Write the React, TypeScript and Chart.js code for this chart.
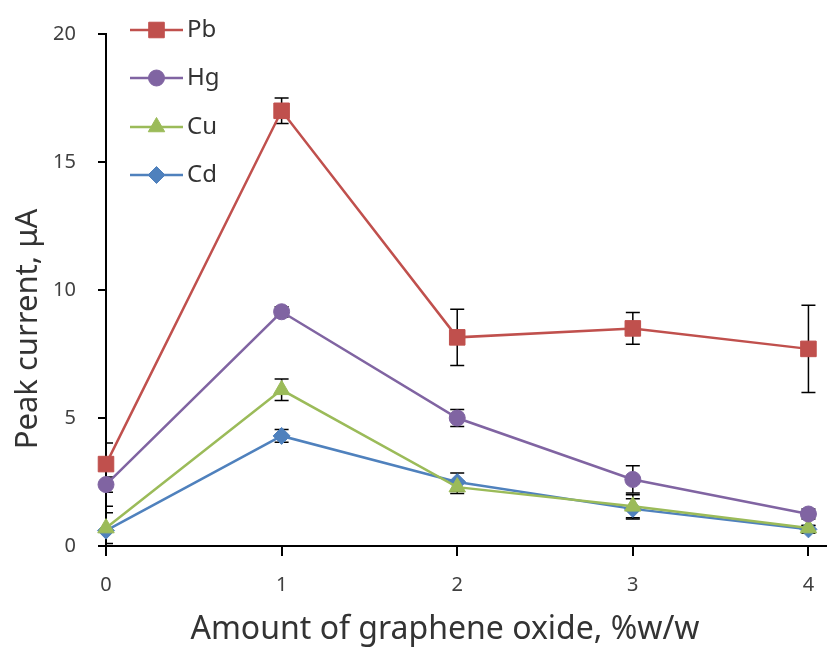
import React, { useEffect, useRef } from "react";
import { Chart, registerables } from "chart.js";
import { drawPoint } from "chart.js/helpers";

Chart.register(...registerables);

// Graphene oxide loading, %w/w
const goAmounts = [0, 1, 2, 3, 4];

// Peak currents (µA) and standard deviations for each metal
const pbCurrent = [3.2, 17.0, 8.15, 8.5, 7.7];
const pbError = [0.82, 0.5, 1.1, 0.62, 1.7];
const hgCurrent = [2.4, 9.15, 5.0, 2.6, 1.25];
const hgError = [0.3, 0.2, 0.33, 0.53, 0.2];
const cuCurrent = [0.7, 6.1, 2.3, 1.55, 0.7];
const cuError = [0.6, 0.42, 0.25, 0.45, 0.1];
const cdCurrent = [0.6, 4.3, 2.5, 1.45, 0.65];
const cdError = [0.95, 0.25, 0.35, 0.4, 0.15];

const yTicks = [0, 5, 10, 15, 20];
const xTicks = [0, 1, 2, 3, 4];

const xTitle = "Amount of graphene oxide, %w/w";
const yTitle = "Peak current, μA";

const FONT = "'Noto Sans', sans-serif";

const series = [
  { label: "Pb", values: pbCurrent, errors: pbError, color: "#C0504D", style: "rect", radius: 11 },
  { label: "Hg", values: hgCurrent, errors: hgError, color: "#8064A2", style: "circle", radius: 8 },
  { label: "Cu", values: cuCurrent, errors: cuError, color: "#9BBB59", style: "triangle", radius: 9.5 },
  { label: "Cd", values: cdCurrent, errors: cdError, color: "#4F81BD", style: "rectRot", radius: 8.5 },
];

// Vertical error bars with caps, clipped to the plot area and drawn beneath the markers
const errorBarPlugin = {
  id: "errorBars",
  beforeDatasetsDraw(chart: any) {
    const { ctx, chartArea } = chart;
    const xs = chart.scales.x;
    const ys = chart.scales.y;
    ctx.save();
    ctx.beginPath();
    ctx.rect(chartArea.left + 1, chartArea.top - 2, chartArea.right - chartArea.left, chartArea.bottom - chartArea.top + 2);
    ctx.clip();
    ctx.strokeStyle = "#000";
    ctx.lineWidth = 1.5;
    chart.data.datasets.forEach((ds: any) => {
      const errs: number[] = ds.errorValues || [];
      ds.data.forEach((pt: any, i: number) => {
        const e = errs[i];
        if (!e) return;
        const px = xs.getPixelForValue(pt.x);
        const top = ys.getPixelForValue(pt.y + e);
        const bot = ys.getPixelForValue(pt.y - e);
        const cap = 7;
        ctx.beginPath();
        ctx.moveTo(px, top);
        ctx.lineTo(px, bot);
        ctx.moveTo(px - cap, top);
        ctx.lineTo(px + cap, top);
        ctx.moveTo(px - cap, bot);
        ctx.lineTo(px + cap, bot);
        ctx.stroke();
      });
    });
    ctx.restore();
  },
};

// Axis titles
const axisTitlePlugin = {
  id: "axisTitles",
  afterDraw(chart: any) {
    const { ctx } = chart;
    ctx.save();
    ctx.fillStyle = "#333";
    ctx.textAlign = "center";
    ctx.textBaseline = "middle";
    ctx.font = `32px ${FONT}`;
    ctx.fillText(xTitle, 445, 630);
    ctx.translate(28, 329);
    ctx.rotate(-Math.PI / 2);
    ctx.font = `31px ${FONT}`;
    ctx.fillText(yTitle, 0, 0);
    ctx.restore();
  },
};

// Line-and-marker legend stacked in the upper left of the plot
const legendPlugin = {
  id: "lineLegend",
  afterDraw(chart: any) {
    const { ctx, chartArea } = chart;
    const x0 = chartArea.left + 24;
    const lineLen = 53;
    const rowY = [30, 78, 127, 175];
    ctx.save();
    chart.data.datasets.forEach((ds: any, i: number) => {
      const y = rowY[i];
      ctx.strokeStyle = ds.borderColor;
      ctx.lineWidth = 2.5;
      ctx.beginPath();
      ctx.moveTo(x0, y);
      ctx.lineTo(x0 + lineLen, y);
      ctx.stroke();
      ctx.fillStyle = ds.backgroundColor;
      ctx.strokeStyle = ds.borderColor;
      ctx.lineWidth = 1;
      drawPoint(ctx, { pointStyle: ds.pointStyle, radius: ds.pointRadius, borderWidth: 1, rotation: 0 }, x0 + lineLen / 2, y);
      ctx.fillStyle = "#333";
      ctx.font = `24px ${FONT}`;
      ctx.textBaseline = "middle";
      ctx.textAlign = "left";
      ctx.fillText(ds.label, x0 + lineLen + 4, y);
    });
    ctx.restore();
  },
};

export default function App() {
  const canvasRef = useRef<HTMLCanvasElement | null>(null);

  useEffect(() => {
    if (!canvasRef.current) return;
    const chart = new Chart(canvasRef.current, {
      type: "line",
      data: {
        datasets: series.map((s) => ({
          label: s.label,
          data: goAmounts.map((x, i) => ({ x, y: s.values[i] })),
          errorValues: s.errors,
          borderColor: s.color,
          backgroundColor: s.color,
          borderWidth: 2.5,
          pointStyle: s.style,
          pointRadius: s.radius,
          pointBorderWidth: 1,
          tension: 0,
          clip: false,
        })) as any,
      },
      options: {
        animation: false,
        responsive: true,
        maintainAspectRatio: false,
        layout: { autoPadding: false, padding: { left: 0, right: 1, top: 34, bottom: 0 } },
        plugins: {
          legend: { display: false },
          tooltip: { enabled: false },
        },
        scales: {
          x: {
            type: "linear",
            min: 0,
            max: 4.1,
            afterBuildTicks: (axis: any) => {
              axis.ticks = xTicks.map((v) => ({ value: v }));
            },
            afterFit: (axis: any) => {
              axis.height = 102;
              axis.paddingLeft = 0;
              axis.paddingRight = 0;
            },
            border: { display: true, color: "#000", width: 2 },
            grid: {
              drawOnChartArea: false,
              drawTicks: true,
              tickLength: 10,
              color: "#000",
              lineWidth: 2,
            },
            ticks: {
              color: "#404040",
              padding: 17,
              font: { family: FONT, size: 20 },
            },
          },
          y: {
            type: "linear",
            min: 0,
            max: 20,
            afterBuildTicks: (axis: any) => {
              axis.ticks = yTicks.map((v) => ({ value: v }));
            },
            afterFit: (axis: any) => {
              axis.width = 106;
              axis.paddingTop = 0;
              axis.paddingBottom = 0;
            },
            border: { display: true, color: "#000", width: 2 },
            grid: {
              drawOnChartArea: false,
              drawTicks: true,
              tickLength: 8,
              color: "#000",
              lineWidth: 2,
            },
            ticks: {
              color: "#404040",
              padding: 22,
              font: { family: FONT, size: 20 },
            },
          },
        },
      },
      plugins: [errorBarPlugin, legendPlugin, axisTitlePlugin],
    } as any);
    return () => chart.destroy();
  }, []);

  return (
    <div style={{ position: "fixed", left: 0, top: 0, width: 827, height: 648, background: "#fff" }}>
      <canvas ref={canvasRef} />
    </div>
  );
}
